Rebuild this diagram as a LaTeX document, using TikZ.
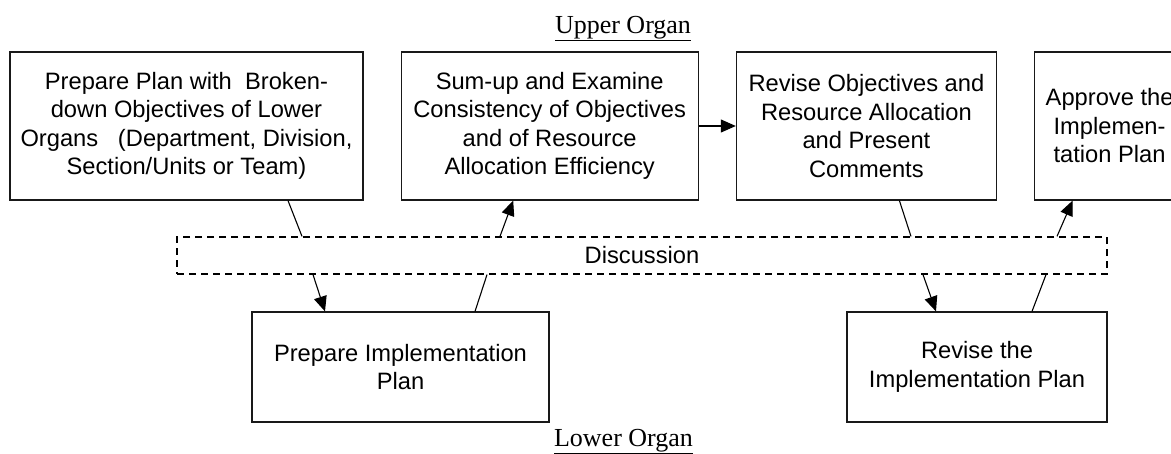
\documentclass[tikz,border=0pt]{standalone}
\usepackage{fontspec}
\setmainfont{Liberation Sans}
\newfontfamily\organfont{Liberation Serif}
\usepackage{tikz}
\usetikzlibrary{arrows.meta, positioning, calc}

\begin{document}
\begin{tikzpicture}[
    x=1pt, y=-1pt,
    stepbox/.style={rectangle, draw=black!90, line width=1.2pt, minimum height=148pt, align=center, inner sep=0pt, font=\fontsize{23.7}{28.5}\selectfont},
    lowbox/.style={stepbox, minimum height=110pt},
    talkbox/.style={rectangle, draw=black, line width=1.3pt, dash pattern=on 7pt off 5pt, minimum width=930pt, minimum height=37pt, font=\fontsize{23.7}{28.5}\selectfont},
    organ/.style={anchor=base, font=\organfont\fontsize{26}{30}\selectfont},
    arrow/.style={-{Triangle[length=15pt, width=13pt]}, line width=1.1pt},
    link/.style={line width=1.1pt},
    node distance=37pt
]
\clip (0,0) rectangle (1171,453);

% Upper organ
\node[organ] (upper) at (623,33) {\underline{Upper Organ}};
\node[stepbox, minimum width=353pt] (plan) at (186.5,126) {Prepare Plan with~ Broken-\\down Objectives of Lower\\Organs~~ (Department, Division,\\Section/Units or Team)};
\node[stepbox, minimum width=297pt, right=of plan] (sumup) {Sum-up and Examine\\Consistency of Objectives\\and of Resource\\Allocation Efficiency};
\node[stepbox, minimum width=260pt, right=of sumup] (revise) {Revise Objectives and\\Resource Allocation\\and Present\\Comments};
\node[stepbox, minimum width=150pt, right=of revise] (approve) {Approve the\\Implemen-\\tation Plan};

% Discussion
\node[talkbox] (talk) at (642,255.5) {Discussion};

% Lower organ
\node[lowbox, minimum width=297pt] (prepimpl) at (400.5,367) {Prepare Implementation\\Plan};
\node[lowbox, minimum width=260pt] (reviseimpl) at (977,367) {Revise the\\Implementation Plan};
\node[organ] (lower) at (623.5,446) {\underline{Lower Organ}};

% Arrows
\draw[link] ([xshift=101.5pt]plan.south) -- ([xshift=-340pt]talk.north);
\draw[arrow] ([xshift=-142pt]talk.north) -- ([xshift=-36.5pt]sumup.south);
\draw[arrow] (sumup) -- (revise);
\draw[link] ([xshift=33pt]revise.south) -- ([xshift=269pt]talk.north);
\draw[arrow] ([xshift=415pt]talk.north) -- ([xshift=-37pt]approve.south);
\draw[arrow] ([xshift=-329pt]talk.south) -- ([xshift=-75.5pt]prepimpl.north);
\draw[link] ([xshift=74.5pt]prepimpl.north) -- ([xshift=-155pt]talk.south);
\draw[arrow] ([xshift=281pt]talk.south) -- ([xshift=-41pt]reviseimpl.north);
\draw[link] ([xshift=55pt]reviseimpl.north) -- ([xshift=404pt]talk.south);

\end{tikzpicture}
\end{document}
